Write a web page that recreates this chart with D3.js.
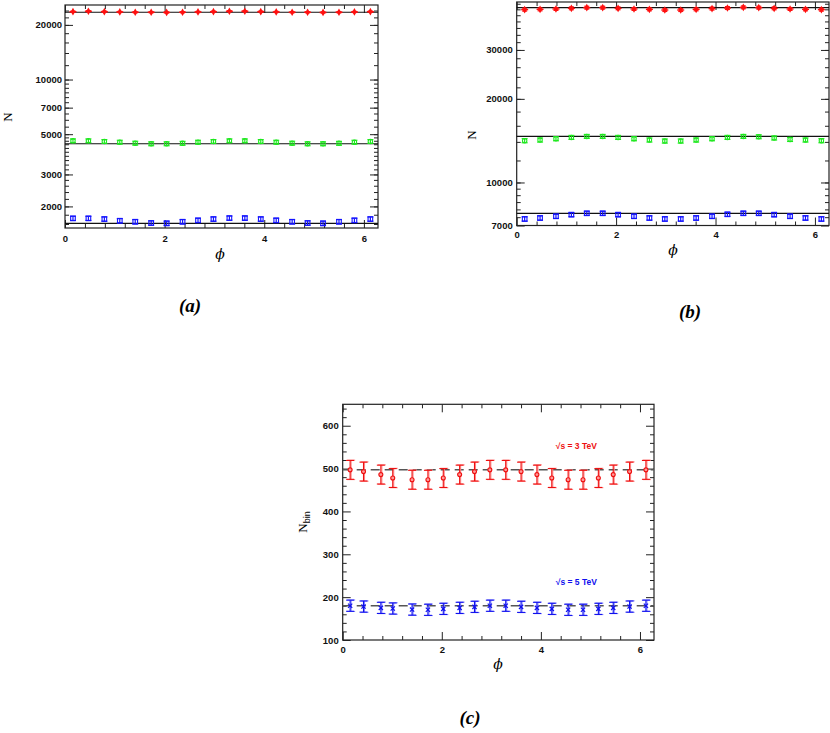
<!DOCTYPE html>
<meta charset="utf-8">
<script src="https://d3js.org/d3.v7.min.js"></script>
<style>
  body { margin: 0; background: #fff; }
  svg text { font-family: "Liberation Sans", Arial, sans-serif; }
</style>
<body>
<div id="chart"></div>
<script>
// bin centres in phi (panels a, b) and the points of panel c
var phiBins = [0.16, 0.47, 0.79, 1.10, 1.41, 1.73, 2.04, 2.36, 2.67, 2.98,
               3.30, 3.61, 3.93, 4.24, 4.56, 4.87, 5.18, 5.50, 5.81, 6.13];
var phiC = [0.15, 0.42, 0.77, 1.01, 1.40, 1.72, 2.03, 2.36, 2.66, 2.97,
            3.29, 3.60, 3.92, 4.22, 4.55, 4.85, 5.16, 5.46, 5.79, 6.12];

// panel (a)
var redA   = [23660, 23780, 23660, 23570, 23480, 23480, 23420, 23480, 23570, 23660,
              23780, 23780, 23660, 23570, 23480, 23480, 23420, 23480, 23570, 23660];
var greenA = [4598, 4598, 4558, 4518, 4462, 4428, 4428, 4455, 4518, 4558,
              4598, 4598, 4558, 4518, 4462, 4428, 4428, 4455, 4518, 4558];
var blueA  = [1719, 1719, 1704, 1668, 1647, 1620, 1614, 1647, 1676, 1704,
              1725, 1725, 1704, 1676, 1647, 1620, 1614, 1647, 1676, 1704];
var fitA = [23480, 4428, 1614];
var errA = [160, 110, 45];

// panel (b)
var redB   = [41900, 42000, 42130, 42360, 42600, 42600, 42360, 42130, 42000, 41770,
              41770, 42000, 42270, 42470, 42700, 42600, 42360, 42130, 42000, 41900];
var greenB = [14140, 14220, 14370, 14530, 14650, 14650, 14530, 14370, 14220, 14100,
              14100, 14220, 14370, 14530, 14650, 14610, 14460, 14290, 14220, 14140];
var blueB  = [7390, 7450, 7555, 7660, 7745, 7745, 7660, 7555, 7450, 7390,
              7390, 7450, 7555, 7680, 7745, 7745, 7660, 7555, 7450, 7390];
var fitB = [42600, 14650, 7745];
var errB = [500, 240, 130];

// panel (c)
var redC  = [497, 493, 486, 478, 474, 474, 478, 486, 493, 497,
             497, 493, 486, 478, 474, 474, 478, 486, 493, 497];
var blueC = [180, 178, 175, 173.5, 171, 170.5, 172.7, 175, 177.4, 180,
             180, 177.4, 175, 172.7, 170.5, 170.5, 172.7, 175, 178, 180];
var fitC = [497, 180];
var errC = [22, 13];
var energyLabels = ["\u221As = 3 TeV", "\u221As = 5 TeV"];

// tick labels
var xTicks = [0, 2, 4, 6];
var yTicksA = [2000, 3000, 5000, 7000, 10000, 20000];
var yTicksB = [7000, 10000, 20000, 30000];
var yTicksC = [100, 200, 300, 400, 500, 600];
var panelNames = ["(a)", "(b)", "(c)"];

var svg = d3.select("#chart").append("svg")
    .attr("width", 830)
    .attr("height", 733);

var xMinor = d3.range(1, 16).filter(function(k) { return k % 5 != 0; })
    .map(function(k) { return k * 0.4; });

function logMinor(lo, hi) {
  var out = [];
  d3.range(1000, 5000, 200).forEach(function(v) { out.push(v); });
  d3.range(5000, 10000, 500).forEach(function(v) { out.push(v); });
  d3.range(10000, 50000, 2000).forEach(function(v) { out.push(v); });
  return out.filter(function(v) { return v > lo && v < hi; });
}

function axis(g, fn, scale, vals, size, fmt, pad, tr) {
  var a = fn(scale).tickValues(vals).tickSize(size).tickSizeOuter(0).tickPadding(pad)
      .tickFormat(fmt || function() { return ""; });
  var s = g.append("g").attr("transform", tr || null).call(a);
  s.select(".domain").remove();
  s.selectAll("line").attr("stroke", "#222").attr("stroke-width", 1);
  s.selectAll("text")
    .attr("font-size", 9.5)
    .attr("font-weight", "bold")
    .attr("fill", "#111")
    .style("font-family", "'Liberation Sans', Arial, sans-serif");
  return s;
}

function makePanel(o) {
  var g = svg.append("g").attr("transform", "translate(" + o.left + "," + o.top + ")");
  var w = o.w, h = o.h;
  var x = d3.scaleLinear().domain([0, 2 * Math.PI]).range([0, w]);
  var y = (o.log ? d3.scaleLog() : d3.scaleLinear()).domain(o.yDomain).range([h, 0]);

  var fmt = d3.format("d");
  axis(g, d3.axisBottom, x, xTicks, -8, fmt, o.xPad, "translate(0," + h + ")");
  axis(g, d3.axisBottom, x, xMinor, -4, null, 0, "translate(0," + h + ")");
  axis(g, d3.axisTop, x, xTicks, -8, null, 0);
  axis(g, d3.axisTop, x, xMinor, -4, null, 0);
  axis(g, d3.axisLeft, y, o.yTicks, -8, fmt, o.yPad);
  axis(g, d3.axisLeft, y, o.yMinor, -4, null, 0);
  axis(g, d3.axisRight, y, o.yTicks, -8, null, 0, "translate(" + w + ",0)");
  axis(g, d3.axisRight, y, o.yMinor, -4, null, 0, "translate(" + w + ",0)");

  g.append("rect")
    .attr("width", w).attr("height", h)
    .attr("fill", "none").attr("stroke", "#222").attr("stroke-width", 1.2);

  return { g: g, x: x, y: y };
}

// error bars and markers for panels a and b
function drawSeries(p, phis, vals, err, color, marker, capW) {
  var grp = p.g.append("g");
  var pts = grp.selectAll("g").data(vals).enter().append("g")
    .attr("transform", function(d, i) { return "translate(" + p.x(phis[i]) + ",0)"; });
  pts.append("line")
    .attr("y1", function(d) { return p.y(d - err); })
    .attr("y2", function(d) { return p.y(d + err); })
    .attr("stroke", color).attr("stroke-width", 1.2);
  [-1, 1].forEach(function(s) {
    pts.append("line")
      .attr("x1", -capW / 2).attr("x2", capW / 2)
      .attr("y1", function(d) { return p.y(d + s * err); })
      .attr("y2", function(d) { return p.y(d + s * err); })
      .attr("stroke", color).attr("stroke-width", 1.2);
  });
  if (marker == "diamond") {
    pts.append("path")
      .attr("transform", function(d) { return "translate(0," + p.y(d) + ")"; })
      .attr("d", d3.symbol(d3.symbolDiamond, 17))
      .attr("fill", color);
    pts.append("line")
      .attr("x1", -3.5).attr("x2", 3.5)
      .attr("y1", function(d) { return p.y(d); })
      .attr("y2", function(d) { return p.y(d); })
      .attr("stroke", color).attr("stroke-width", 1.4);
  } else if (marker == "circle") {
    pts.append("circle")
      .attr("cy", function(d) { return p.y(d); })
      .attr("r", 2.2)
      .attr("fill", "none").attr("stroke", color).attr("stroke-width", 1.1);
  } else if (marker == "square") {
    pts.append("rect")
      .attr("x", -2.3).attr("width", 4.6).attr("height", 4.6)
      .attr("y", function(d) { return p.y(d) - 2.3; })
      .attr("fill", "none").attr("stroke", color).attr("stroke-width", 1.1);
  }
}

function fitLine(p, v, dashed) {
  p.g.append("line")
    .attr("x1", 0).attr("x2", p.x.range()[1])
    .attr("y1", p.y(v)).attr("y2", p.y(v))
    .attr("stroke", dashed ? "#555" : "#111")
    .attr("stroke-width", dashed ? 1.5 : 1.2)
    .attr("stroke-dasharray", dashed ? "9,5" : null);
}

// ---------- panel (a)
var pA = makePanel({
  left: 65, top: 5, w: 313, h: 223, log: true,
  yDomain: [1521, 25740], yTicks: yTicksA, yMinor: logMinor(1521, 25740),
  xPad: 7, yPad: 3
});
fitA.forEach(function(v) { fitLine(pA, v); });
drawSeries(pA, phiBins, redA, errA[0], "#ff1010", "diamond", 5);
drawSeries(pA, phiBins, greenA, errA[1], "#1ee81e", "circle", 6);
drawSeries(pA, phiBins, blueA, errA[2], "#1515ff", "square", 6);

// ---------- panel (b)
var pB = makePanel({
  left: 516.7, top: 2, w: 312.3, h: 223.5, log: true,
  yDomain: [7000, 44640], yTicks: yTicksB, yMinor: logMinor(7000, 44640),
  xPad: 6, yPad: 4
});
fitB.forEach(function(v) { fitLine(pB, v); });
drawSeries(pB, phiBins, redB, errB[0], "#ff1010", "diamond", 5);
drawSeries(pB, phiBins, greenB, errB[1], "#1ee81e", "circle", 6);
drawSeries(pB, phiBins, blueB, errB[2], "#1515ff", "square", 6);

// ---------- panel (c)
var pC = makePanel({
  left: 342.7, top: 404.3, w: 311.3, h: 235.7, log: false,
  yDomain: [100, 650], yTicks: yTicksC,
  yMinor: d3.range(120, 650, 20).filter(function(v) { return v % 100 != 0; }),
  xPad: 6, yPad: 4
});
fitC.forEach(function(v) { fitLine(pC, v, true); });

function drawC(vals, err, color, light, marker) {
  var pts = pC.g.append("g").selectAll("g").data(vals).enter().append("g")
    .attr("transform", function(d, i) { return "translate(" + pC.x(phiC[i]) + ",0)"; });
  // lighter bar slightly offset behind the main one
  [[light, 1, err * 1.03], [color, 0, err]].forEach(function(b) {
    pts.append("line")
      .attr("x1", b[1]).attr("x2", b[1])
      .attr("y1", function(d) { return pC.y(d - b[2]); })
      .attr("y2", function(d) { return pC.y(d + b[2]); })
      .attr("stroke", b[0]).attr("stroke-width", 1.1);
    [-1, 1].forEach(function(s) {
      pts.append("line")
        .attr("x1", -4 + b[1]).attr("x2", 4 + b[1])
        .attr("y1", function(d) { return pC.y(d + s * b[2]); })
        .attr("y2", function(d) { return pC.y(d + s * b[2]); })
        .attr("stroke", b[0]).attr("stroke-width", 1.1);
    });
  });
  if (marker == "circle") {
    pts.append("circle")
      .attr("cy", function(d) { return pC.y(d); })
      .attr("r", 2)
      .attr("fill", "#ff9a9a").attr("stroke", color).attr("stroke-width", 1.1);
  } else {
    pts.append("path")
      .attr("transform", function(d) { return "translate(0," + pC.y(d) + ") rotate(45)"; })
      .attr("d", "M0,-3V3M-3,0H3")
      .attr("fill", "none").attr("stroke", color).attr("stroke-width", 1.2);
  }
}
drawC(redC, errC[0], "#ee1010", "#ff8a8a", "circle");
drawC(blueC, errC[1], "#1010ee", "#8a8aff", "cross");

pC.g.append("text")
  .attr("x", pC.x(4.3)).attr("y", pC.y(fitC[0]) - 21)
  .attr("font-size", 8.5).attr("font-weight", "bold").attr("fill", "#ee1010")
  .text(energyLabels[0]);
pC.g.append("text")
  .attr("x", pC.x(4.3)).attr("y", pC.y(fitC[1]) - 21)
  .attr("font-size", 8.5).attr("font-weight", "bold").attr("fill", "#1010ee")
  .text(energyLabels[1]);

// ---------- axis titles and panel names
function yTitle(x, y, sub) {
  var t = svg.append("text")
    .attr("transform", "translate(" + x + "," + y + ") rotate(-90)")
    .attr("text-anchor", "middle")
    .style("font-family", "'Liberation Serif', serif")
    .attr("font-size", 13)
    .text("N");
  if (sub) {
    t.append("tspan").attr("dy", 3).attr("font-size", 9)
      .style("font-family", "'Liberation Sans', sans-serif")
      .text(sub);
  }
}
yTitle(12, 117);
yTitle(476, 135);
yTitle(307, 522, "bin");

[[220, 259], [673, 255], [498, 669]].forEach(function(p) {
  svg.append("text")
    .attr("x", p[0]).attr("y", p[1])
    .attr("text-anchor", "middle")
    .style("font-family", "'DejaVu Serif', serif")
    .attr("font-style", "italic")
    .attr("font-size", 14)
    .text("\u03D5");
});

[[190, 312], [690, 318], [470, 724]].forEach(function(p, i) {
  svg.append("text")
    .attr("x", p[0]).attr("y", p[1])
    .attr("text-anchor", "middle")
    .style("font-family", "'Liberation Serif', serif")
    .attr("font-style", "italic")
    .attr("font-weight", "bold")
    .attr("font-size", 19)
    .text(panelNames[i]);
});
</script>
</body>
